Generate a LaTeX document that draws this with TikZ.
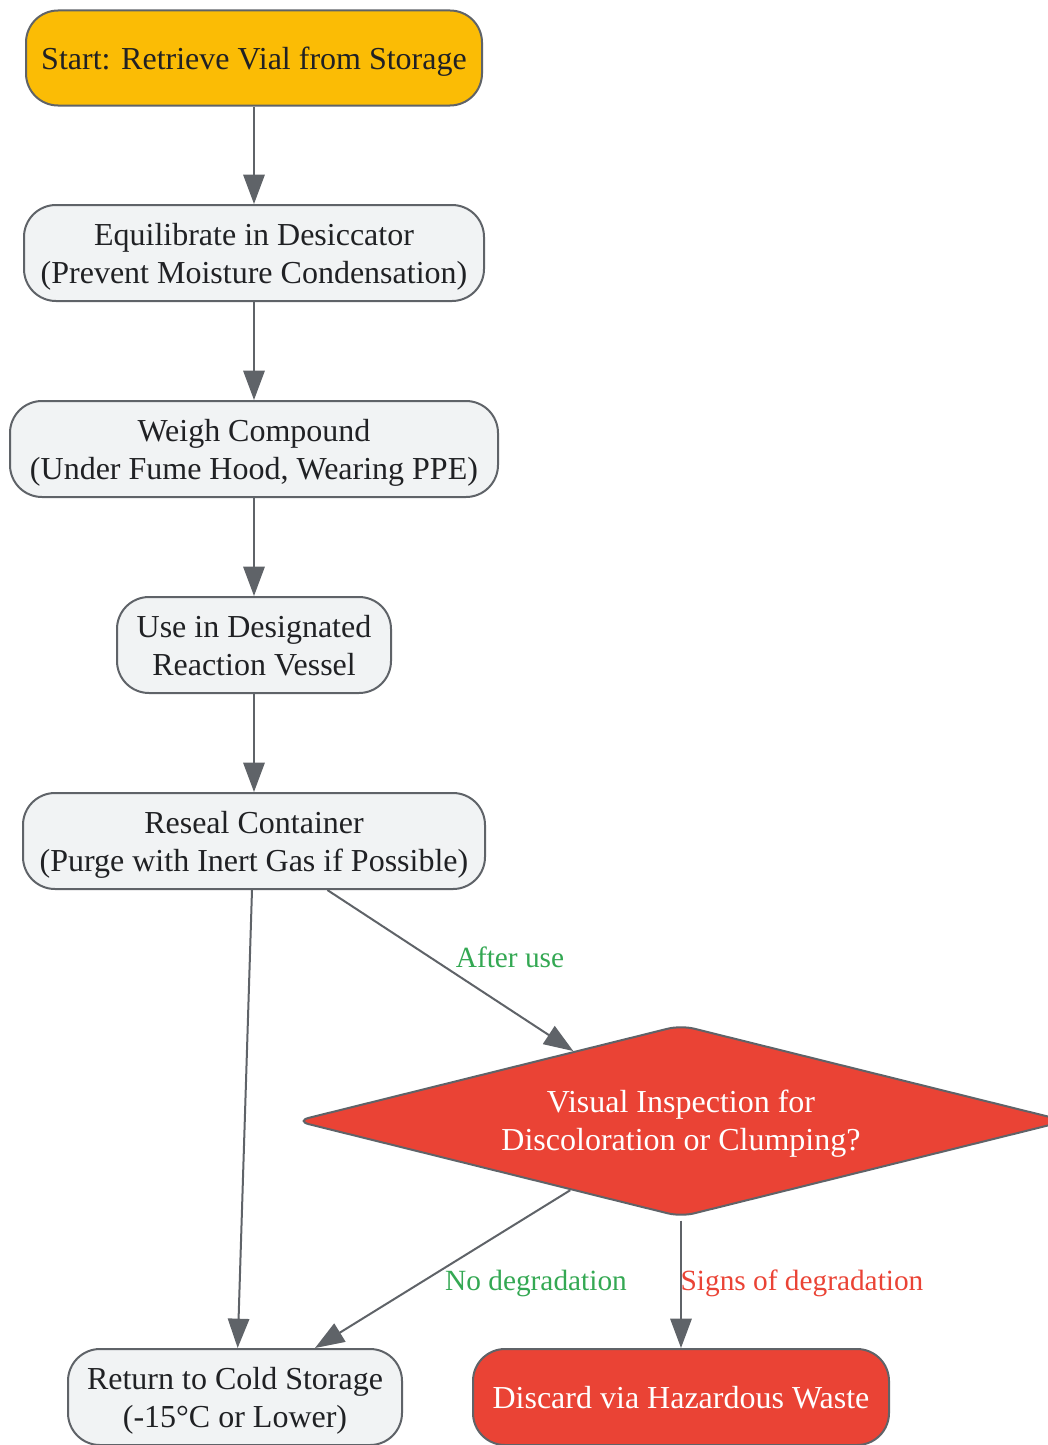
\documentclass[tikz,border=0pt]{standalone}
\usepackage{fontspec}
\setmainfont{Liberation Serif}
\usepackage{xcolor}
\usetikzlibrary{arrows.meta,shapes.geometric}

\definecolor{edgegray}{HTML}{5F6368}
\definecolor{startyellow}{HTML}{FBBC05}
\definecolor{stepfill}{HTML}{F1F3F4}
\definecolor{alertred}{HTML}{EA4335}
\definecolor{okgreen}{HTML}{34A853}
\definecolor{inkdark}{HTML}{202124}

\tikzset{
  box/.style={draw=edgegray, line width=1.5pt, rounded corners=24pt, fill=stepfill,
    text=inkdark, align=center, minimum height=72pt, inner sep=0pt, text depth=0pt,
    font=\fontsize{24}{28.5}\selectfont},
  flow/.style={draw=edgegray, line width=1.5pt, -{Triangle[length=22pt,width=16pt]}},
  lbl/.style={font=\fontsize{22}{24}\selectfont, inner sep=0pt}
}

\begin{document}
\begin{tikzpicture}[x=0.75pt,y=-0.75pt]
\useasboundingbox (0,0) rectangle (1048,1445);

% main steps
\node[box, fill=startyellow, minimum width=342pt, minimum height=71.25pt] (start) at (254,58) {Start: Retrieve Vial from Storage};
\node[box, minimum width=345pt] (equil) at (254,253) {Equilibrate in Desiccator\\(Prevent Moisture Condensation)};
\node[box, minimum width=366pt] (weigh) at (254,449) {Weigh Compound\\(Under Fume Hood, Wearing PPE)};
\node[box, minimum width=205.5pt, text depth=-4.5pt] (use) at (254,645) {Use in Designated\\Reaction Vessel};
\node[box, minimum width=346.5pt] (reseal) at (254,841) {Reseal Container\\(Purge with Inert Gas if Possible)};

% inspection
\node[diamond, draw=edgegray, line width=1.5pt, fill=alertred, text=white, align=center,
  aspect=4, minimum width=578pt, minimum height=144pt, inner sep=0pt, rounded corners=10pt,
  text depth=1.5pt, font=\fontsize{24}{28.5}\selectfont] (check) at (681,1121) {Visual Inspection for\\Discoloration or Clumping?};

% end points
\node[box, minimum width=250.5pt] (return) at (235,1397) {Return to Cold Storage\\(-15°C or Lower)};
\node[box, fill=alertred, text=white, minimum width=312pt] (discard) at (681,1397) {Discard via Hazardous Waste};

\draw[flow] (start) -- (equil);
\draw[flow] (equil) -- (weigh);
\draw[flow] (weigh) -- (use);
\draw[flow] (use) -- (reseal);
\draw[flow] ([xshift=-1.5pt]reseal.south) -- ([xshift=2pt]return.north);
\draw[flow] ([xshift=55pt]reseal.south) -- (check.147);
\draw[flow] (check.212) -- ([xshift=60pt]return.north);
\draw[flow] ([yshift=-2pt]check.south) -- (discard.north);

% edge labels
\node[lbl, text=okgreen] (afteruse) at (510,957) {After use};
\node[lbl, text=okgreen] (nodeg) at (536,1283) {No degradation};
\node[lbl, text=alertred] (signsdeg) at (802,1283) {Signs of degradation};

\end{tikzpicture}
\end{document}
